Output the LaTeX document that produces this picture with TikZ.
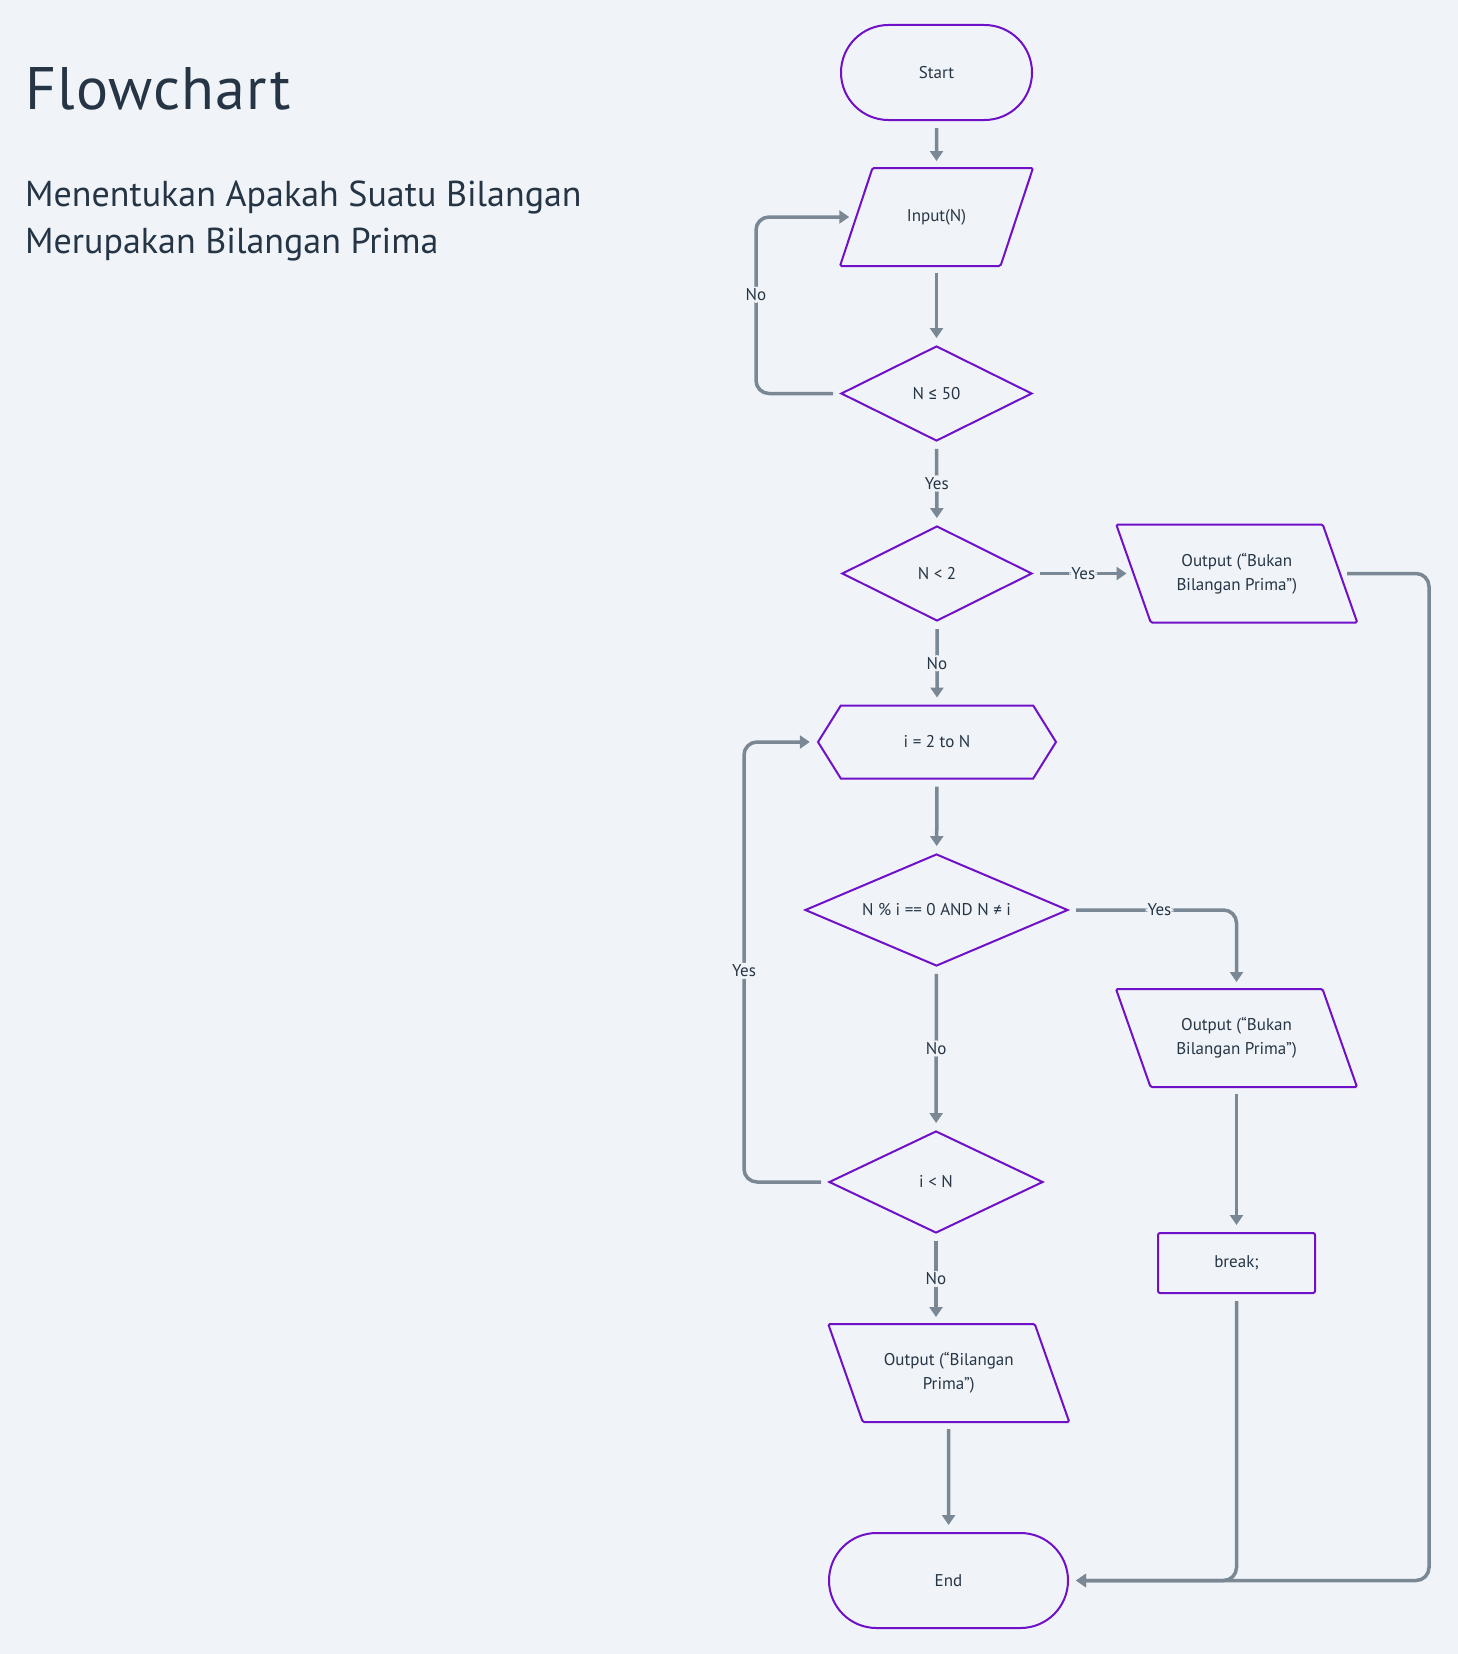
\documentclass[tikz,border=0pt]{standalone}
\usepackage{fontspec}
\setmainfont{PT Sans}
\newfontfamily\titlefont[LetterSpace=2]{PT Sans}
\newfontfamily\symfont{Fira Sans}
\usetikzlibrary{arrows.meta, shapes.geometric, shapes.misc, shapes.symbols, positioning, calc}

\definecolor{bgcol}{HTML}{F0F4F8}
\definecolor{edgecol}{HTML}{7010C8}
\definecolor{linecol}{HTML}{7A8896}
\definecolor{txtcol}{HTML}{263545}

\tikzset{
  base/.style={draw=edgecol, line width=2pt, text=txtcol, inner sep=0pt, align=center,
    font=\fontsize{17}{24}\selectfont},
  term/.style={base, rounded rectangle, minimum width=191pt, minimum height=95pt},
  % parallelogram drawn round a plain box; #1 = shift of the top edge
  iobox/.style={base, draw=none, rectangle, minimum height=96pt,
    append after command={\pgfextra{\draw[draw=edgecol, line width=2pt, rounded corners=1.5pt]
      ([xshift=#1]\tikzlastnode.north west) -- ([xshift=#1]\tikzlastnode.north east)
      -- ([xshift=-#1]\tikzlastnode.south east) -- ([xshift=-#1]\tikzlastnode.south west) -- cycle;}}},
  inbox/.style={iobox=16.25pt, minimum width=158.5pt},
  outbox/.style={iobox=-17.25pt, minimum width=204.5pt},
  decide/.style={base, diamond, aspect=2},
  loopbox/.style={base, signal, signal to=east and west, signal pointer angle=116,
    minimum width=238pt, minimum height=73pt},
  procbox/.style={base, rectangle, rounded corners=2pt, minimum width=157pt, minimum height=60pt},
  conn/.style={draw=linecol, line width=3.5pt, rounded corners=13pt, ->,
    shorten <=7pt, shorten >=7pt},
  lbl/.style={fill=bgcol, text=txtcol, inner sep=2pt, font=\fontsize{17}{20}\selectfont}
}

\begin{document}
\begin{tikzpicture}[x=1pt, y=-1pt, >={Triangle[width=13pt,length=10pt]}]
\fill[bgcol] (0,0) rectangle (1458,1654);
\useasboundingbox (0,0) rectangle (1458,1654);

% heading
\node[anchor=base west, text=txtcol, inner sep=0pt, font=\titlefont\fontsize{60}{60}\selectfont] (title) at (25,109) {Flowchart};
\node[anchor=base west, text=txtcol, inner sep=0pt, font=\fontsize{36}{47}\selectfont, align=left] (sub) at (25,253)
  {Menentukan Apakah Suatu Bilangan\\Merupakan Bilangan Prima};

% main column
\node[term] (start) at (936.5,72.5) {Start};
\node[inbox] (input) at (936.5,217) {Input(N)};
\node[decide, minimum width=191pt, minimum height=95pt] (n50) at (936.5,393.5) {N {\symfont ≤} 50};
\node[decide, minimum width=190pt, minimum height=95pt] (nlt2) at (937,573.5) {N < 2};
\node[loopbox] (loop) at (937,742) {i = 2 to N};
\node[decide, minimum width=263pt, minimum height=112pt] (mod) at (936.5,910) {N \% i == 0 AND N ≠ i};
\node[decide, minimum width=214pt, minimum height=102pt] (iltn) at (936,1182) {i < N};
\node[outbox] (outp) at (948.75,1373) {Output (“Bilangan\\Prima”)};
\node[term, minimum width=239pt] (end) at (948.5,1580.5) {End};

% right column
\node[outbox] (out1) at (1236.75,573.5) {Output (“Bukan\\Bilangan Prima”)};
\node[outbox] (out2) at (1236.5,1038) {Output (“Bukan\\Bilangan Prima”)};
\node[procbox] (brk) at (1236.5,1263) {break;};

% connectors
\draw[conn] (start) -- (input);
\draw[conn] (input) -- (n50);
\draw[conn] (n50.west) -- ++(-84,0) |- node[lbl, pos=0.28] {No} (input.west);
\draw[conn] (n50) -- node[lbl] {Yes} (nlt2);
\draw[conn] (nlt2) -- node[lbl] {Yes} (out1);
\draw[conn] (nlt2) -- node[lbl] {No} (loop);
\draw[conn] (loop) -- (mod);
\draw[conn] (mod.east) -| node[lbl, pos=0.27] {Yes} (out2.north);
\draw[conn] (mod) -- node[lbl] {No} (iltn);
\draw[conn] (iltn.west) -- ++(-84,0) |- node[lbl, pos=0.24] {Yes} (loop.west);
\draw[conn] (iltn.south) -- node[lbl] {No} (iltn.south |- outp.north);
\draw[conn] (outp) -- (end);
\draw[conn] (out2) -- (brk);
\draw[conn] (brk.south) |- (end.east);
\draw[conn] (out1.east) -- ++(89,0) |- (end.east);
\end{tikzpicture}
\end{document}
